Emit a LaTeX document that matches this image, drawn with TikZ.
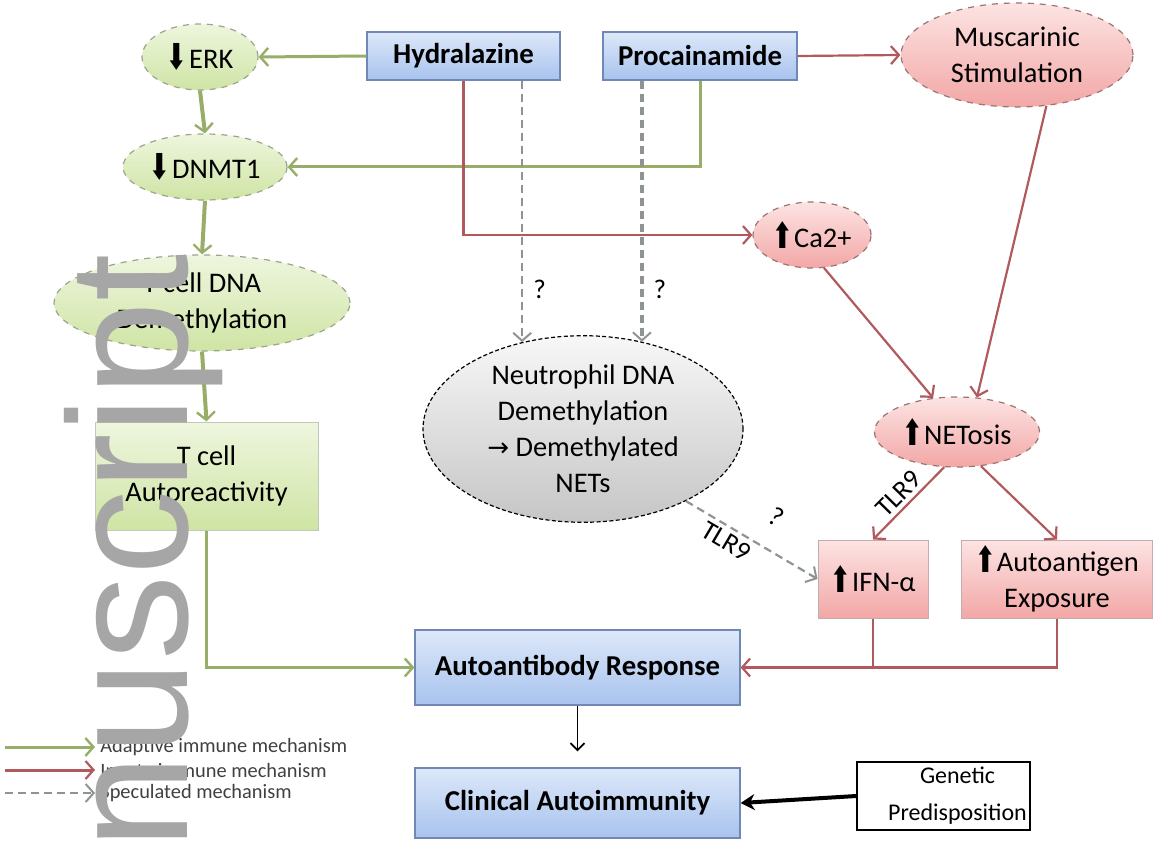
\documentclass[tikz,border=0pt]{standalone}
\usepackage{graphicx}
\usepackage{fontspec}
\setmainfont{Carlito}
\newfontfamily\wmfont{Liberation Sans}
\newfontfamily\dejavu{DejaVu Sans}
\usetikzlibrary{arrows.meta,shapes.geometric,calc}
\definecolor{garrow}{HTML}{98AE68}
\definecolor{rarrow}{HTML}{B05A5E}
\definecolor{darrow}{HTML}{8E9494}
\definecolor{gtop}{HTML}{EEF6DE}
\definecolor{gbot}{HTML}{CFE4A4}
\definecolor{gbord}{HTML}{9AA58C}
\definecolor{rtop}{HTML}{FCE4E3}
\definecolor{rbot}{HTML}{F2A7A6}
\definecolor{rbord}{HTML}{9C7474}
\definecolor{btop}{HTML}{DDE8F9}
\definecolor{bbot}{HTML}{A8C3EE}
\definecolor{bbord}{HTML}{6F88B5}
\definecolor{wmgray}{HTML}{A6A6A6}
\newcommand{\upA}{\raisebox{-0.5pt}{\scalebox{0.72}[1.05]{\dejavu\bfseries\fontsize{17}{17}\selectfont ⬆}}\hspace{0.5pt}}
\newcommand{\downA}{\raisebox{-0.5pt}{\scalebox{0.72}[1.05]{\dejavu\bfseries\fontsize{17}{17}\selectfont ⬇}}\hspace{1pt}}
\tikzset{
 base/.style={align=center, font=\fontsize{14.2}{18}\selectfont, inner sep=1pt},
 gell/.style={base, ellipse, top color=gtop, bottom color=gbot, draw=gbord, dashed, line width=0.6pt},
 rell/.style={base, ellipse, top color=rtop, bottom color=rbot, draw=rbord, dashed, line width=0.6pt},
 gbox/.style={base, rectangle, top color=gtop, bottom color=gbot, draw=gbord!60, line width=0.5pt},
 rbox/.style={base, rectangle, top color=rtop, bottom color=rbot, draw=rbord!60, line width=0.5pt},
 bbox/.style={base, rectangle, top color=btop, bottom color=bbot, draw=bbord, line width=0.6pt, font=\fontsize{14.4}{17}\selectfont\bfseries},
 nell/.style={base, ellipse, top color=gray!6, bottom color=gray!45, draw=black, dash pattern=on 2pt off 1.2pt, line width=0.6pt},
 wbox/.style={base, rectangle, fill=white, draw=black, line width=0.8pt, font=\fontsize{12}{18.5}\selectfont},
 garr/.style={draw=garrow, line width=1.5pt, -{Straight Barb[length=4pt,width=9pt,line width=1.2pt]}},
 rarr/.style={draw=rarrow, line width=1.1pt, -{Straight Barb[length=4pt,width=9pt,line width=1.1pt]}},
 rline/.style={draw=rarrow, line width=1.1pt},
 darr/.style={draw=darrow, line width=1.1pt, dash pattern=on 4pt off 2.5pt, -{Straight Barb[length=4pt,width=9pt,line width=1pt]}},
 lbl/.style={font=\fontsize{13.5}{15}\selectfont, inner sep=1pt},
 leg/.style={font=\fontsize{10.2}{12}\selectfont, anchor=west, inner sep=0pt, text=black!75},
}
\begin{document}
\begin{tikzpicture}[x=0.5pt,y=-0.5pt]
\useasboundingbox (0,0) rectangle (1154,844);
% nodes
\node[gell, minimum width=58pt, minimum height=33pt] (erk) at (200,57) {\downA ERK};
\node[gell, minimum width=82pt, minimum height=33pt] (dnmt) at (205,167) {\downA DNMT1};
\node[gell, minimum width=148pt, minimum height=48pt] (tdem) at (202,303) {T cell DNA\\Demethylation};
\node[gbox, minimum width=111.5pt, minimum height=54pt] (tauto) at (206.5,476) {T cell\\Autoreactivity};
\node[bbox, minimum width=96.5pt, minimum height=24pt] (hyd) at (463.5,56) {Hydralazine};
\node[bbox, minimum width=97pt, minimum height=24pt] (proc) at (700,56) {Procainamide};
\node[rell, minimum width=116pt, minimum height=52pt] (musc) at (1017,55) {Muscarinic\\Stimulation};
\node[rell, minimum width=59pt, minimum height=33pt] (ca) at (812,235) {\upA Ca2+};
\node[nell, minimum width=160pt, minimum height=81pt] (neut) at (583,429) {Neutrophil DNA\\Demethylation\\{\dejavu\fontsize{13}{18}\selectfont →} Demethylated\\NETs};
\node[rell, minimum width=82.5pt, minimum height=35pt] (net) at (957,432) {\upA NETosis};
\node[rbox, minimum width=55pt, minimum height=39pt] (ifn) at (873,579) {\upA IFN-α};
\node[rbox, minimum width=95.5pt, minimum height=39pt] (aag) at (1057,579) {\upA Autoantigen\\Exposure};
\node[bbox, minimum width=162.5pt, minimum height=37.5pt] (aab) at (577.5,667.5) {Autoantibody Response};
\node[bbox, minimum width=162.5pt, minimum height=35pt] (clin) at (577.5,803) {Clinical Autoimmunity};
\node[wbox, minimum width=86.5pt, minimum height=34pt] (gen) at (943.5,796) {\hspace{14pt}Genetic\\\hspace{14pt}Predisposition};
% adaptive connectors
\draw[garr] (hyd.west) -- (erk.east);
\draw[garr, line width=2pt] (erk.south) -- (dnmt.north);
\draw[garr] (proc.south) |- (dnmt.east);
\draw[garr, line width=2pt] (dnmt.south) -- (tdem.north);
\draw[garr, line width=2pt] (tdem.south) -- (tauto.north);
\draw[garr] (tauto.south) |- (aab.west);
% innate connectors
\draw[rarr] (hyd.south) |- (ca.west);
\draw[rarr] (proc.east) -- (musc.west);
\draw[rarr] (musc.-60) -- (net.60);
\draw[rarr] (ca.-70) -- (net.125);
\draw[rarr] (net.-110) -- node[lbl, midway, sloped, above=1pt] {TLR9} (ifn.north);
\draw[rarr] (net.-55) -- (aag.north);
\draw[rline] (ifn.south) -- (ifn.south |- aab.east);
\draw[rarr] (aag.south) |- (aab.east);
% speculated
\draw[darr] (neut.125 |- hyd.south) -- node[lbl, pos=0.8, right=4pt] {?} (neut.125);
\draw[darr, line width=1.6pt] (neut.56 |- proc.south) -- node[lbl, pos=0.8, right=4pt] {?} (neut.56);
\draw[darr] (neut.-35) -- node[lbl, pos=0.56, sloped, above=10pt] {?} node[lbl, pos=0.36, sloped, below=1pt] {TLR9} (ifn.west);
% bottom
\draw[black, line width=0.8pt, shorten >=8pt, -{Straight Barb[length=3.5pt,width=7pt,line width=0.9pt]}] (aab.south) -- (clin.north);
\draw[black, line width=2pt, -{Stealth[length=7pt,width=8pt]}] (gen.west) -- (clin.east);
% legend
\coordinate (l1a) at (5,747); \coordinate (l1b) at (95,747);
\coordinate (l2a) at (5,770); \coordinate (l2b) at (95,770);
\coordinate (l3a) at (5,793); \coordinate (l3b) at (95,793);
\draw[garr] (l1a) -- (l1b);
\draw[rarr, line width=1.5pt] (l2a) -- (l2b);
\draw[darr] (l3a) -- (l3b);
\node[leg] (t1) at (100,747) {Adaptive immune mechanism};
\node[leg] (t2) at (100,770) {Innate immune mechanism};
\node[leg] (t3) at (100,793) {Speculated mechanism};
% watermark
\node[rotate=90, anchor=base east, inner sep=0pt, text=wmgray, font=\wmfont\fontsize{85}{85}\selectfont] (wm) at (187,254) {Manuscript};
\end{tikzpicture}
\end{document}
